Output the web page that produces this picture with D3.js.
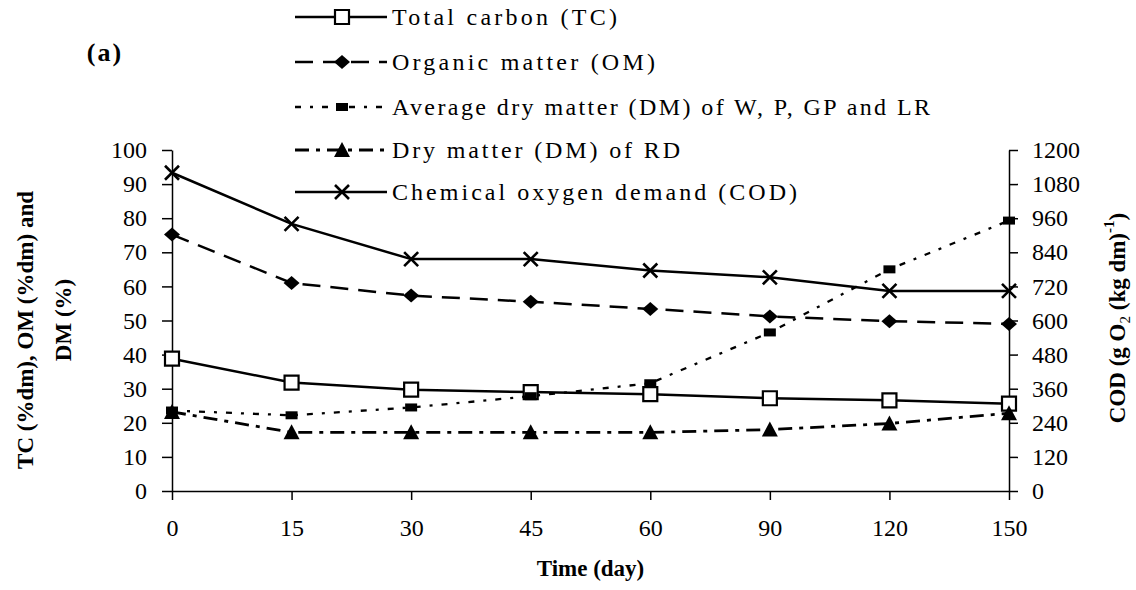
<!DOCTYPE html>
<html>
<head>
<meta charset="utf-8">
<script src="https://cdn.jsdelivr.net/npm/d3@7"></script>
<style>
  body { margin: 0; background: #fff; }
  svg { font-family: "Liberation Serif", "Times New Roman", serif; }
</style>
</head>
<body>
<div id="graph"></div>
<script>
// values (a)
var days = ["0", "15", "30", "45", "60", "90", "120", "150"];
var tcValues = [38.8, 31.8, 29.7, 29.0, 28.4, 27.2, 26.6, 25.6];          // Total carbon, %dm
var omValues = [75.2, 61.0, 57.3, 55.5, 53.4, 51.2, 49.8, 49.0];          // Organic matter, %dm
var avgDmValues = [23.6, 22.2, 24.5, 27.8, 31.6, 46.5, 65.0, 79.3];       // Avg DM of W, P, GP, LR, %
var rdDmValues = [23.2, 17.2, 17.2, 17.2, 17.2, 18.0, 19.8, 22.8];        // DM of RD, %
var codValues = [1120, 940, 816, 816, 776, 752, 704, 704];                // COD, g O2 (kg dm)-1
var leftTicks = [0, 10, 20, 30, 40, 50, 60, 70, 80, 90, 100];
var rightTicks = [0, 120, 240, 360, 480, 600, 720, 840, 960, 1080, 1200];
var legendNames = [
  "Total carbon (TC)",
  "Organic matter (OM)",
  "Average dry matter (DM) of W, P, GP and LR",
  "Dry matter (DM) of RD",
  "Chemical oxygen demand (COD)"
];

var width = 1136;
var height = 590;
var plot = { left: 172, right: 1009, top: 150, bottom: 491 };
var serif = "'Liberation Serif', 'Times New Roman', serif";

var svg = d3.select("#graph").append("svg")
  .attr("width", width)
  .attr("height", height);

var x = d3.scalePoint().domain(days).range([plot.left, plot.right]).padding(0);
var yLeft = d3.scaleLinear().domain([0, 100]).range([plot.bottom, plot.top]);
var yRight = d3.scaleLinear().domain([0, 1200]).range([plot.bottom, plot.top]);

// marker shapes, drawn around 0,0
function markerPath(kind) {
  if (kind == "square") return "M-7,-7H7V7H-7Z";
  if (kind == "diamond") return "M0,-7L8,0L0,7L-8,0Z";
  if (kind == "rect") return "M-6,-4H6V4H-6Z";
  if (kind == "triangle") return "M0,-8L8,7H-8Z";
  if (kind == "cross") return "M-7,-7L7,7M-7,7L7,-7";
  return "";
}

var series = [
  { name: legendNames[0], values: tcValues, scale: yLeft, dash: null, width: 2.5, marker: "square", fill: "#fff", stroke: 2.2 },
  { name: legendNames[1], values: omValues, scale: yLeft, dash: "18,10", width: 2.5, marker: "diamond", fill: "#000", stroke: 0 },
  { name: legendNames[2], values: avgDmValues, scale: yLeft, dash: "6,9,3,9", width: 2.3, marker: "rect", fill: "#000", stroke: 0 },
  { name: legendNames[3], values: rdDmValues, scale: yLeft, dash: "14,7,4,7", width: 2.8, marker: "triangle", fill: "#000", stroke: 0 },
  { name: legendNames[4], values: codValues, scale: yRight, dash: null, width: 2.5, marker: "cross", fill: "none", stroke: 2.6 }
];

/* ---------- axes ---------- */
function styleAxis(g, size) {
  g.attr("font-family", serif);   // d3 puts sans-serif on the axis group
  g.selectAll("text").attr("font-size", size).attr("fill", "#000");
  g.selectAll("line").attr("stroke", "#000").attr("stroke-width", 1.5);
  g.select(".domain").attr("stroke", "#000").attr("stroke-width", 1.5);
}

var gLeft = svg.append("g")
  .attr("transform", "translate(" + plot.left + ",0)")
  .call(d3.axisLeft(yLeft).tickValues(leftTicks).tickSize(10).tickSizeOuter(0).tickPadding(15));
styleAxis(gLeft, 24);

var gRight = svg.append("g")
  .attr("transform", "translate(" + plot.right + ",0)")
  .call(d3.axisRight(yRight).tickValues(rightTicks).tickFormat(d3.format("d"))
    .tickSize(9).tickSizeOuter(0).tickPadding(14));
styleAxis(gRight, 24);

var gBottom = svg.append("g")
  .attr("transform", "translate(0," + plot.bottom + ")")
  .call(d3.axisBottom(x).tickSize(9).tickSizeOuter(0).tickPadding(19));
styleAxis(gBottom, 24);

// axis titles
svg.append("text")
  .attr("transform", "translate(25,330) rotate(-90)")
  .attr("text-anchor", "middle").attr("dy", "0.35em")
  .attr("font-size", 23).attr("font-weight", "bold")
  .text("TC (%dm), OM (%dm) and");
svg.append("text")
  .attr("transform", "translate(63,320) rotate(-90)")
  .attr("text-anchor", "middle").attr("dy", "0.35em")
  .attr("font-size", 23).attr("font-weight", "bold")
  .text("DM (%)");

var rt = svg.append("text")
  .attr("transform", "translate(1117,318) rotate(-90)")
  .attr("text-anchor", "middle").attr("dy", "0.35em")
  .attr("font-size", 23).attr("font-weight", "bold");
rt.append("tspan").text("COD (g O");
rt.append("tspan").attr("font-size", 15).attr("font-weight", "normal").attr("dy", 5).text("2");
rt.append("tspan").attr("dy", -5).text(" (kg dm)");
rt.append("tspan").attr("font-size", 15).attr("dy", -11).text("-1");
rt.append("tspan").attr("dy", 11).text(")");

svg.append("text")
  .attr("x", (plot.left + plot.right) / 2).attr("y", 568)
  .attr("text-anchor", "middle").attr("dy", "0.35em")
  .attr("font-size", 23).attr("font-weight", "bold")
  .text("Time (day)");

svg.append("text")
  .attr("x", 105).attr("y", 52)
  .attr("text-anchor", "middle").attr("dy", "0.35em")
  .attr("font-size", 26).attr("font-weight", "bold")
  .attr("letter-spacing", 2)
  .text("(a)");

/* ---------- lines and markers ---------- */
series.forEach(function (s) {
  var line = d3.line()
    .x(function (d, i) { return x(days[i]); })
    .y(function (d) { return s.scale(d); });

  svg.append("path")
    .datum(s.values)
    .attr("d", line)
    .attr("fill", "none")
    .attr("stroke", "#000")
    .attr("stroke-width", s.width)
    .attr("stroke-dasharray", s.dash);

  svg.append("g").selectAll("path")
    .data(s.values)
    .enter()
    .append("path")
    .attr("transform", function (d, i) { return "translate(" + x(days[i]) + "," + s.scale(d) + ")"; })
    .attr("d", markerPath(s.marker))
    .attr("fill", s.fill)
    .attr("stroke", "#000")
    .attr("stroke-width", s.stroke);
});

/* ---------- legend ---------- */
var legendRows = [17, 62, 107, 150, 192];
var legendWidths = [225, 263, 538, 288, 405];
series.forEach(function (s, i) {
  var ly = legendRows[i];
  svg.append("line")
    .attr("x1", 295).attr("x2", 387).attr("y1", ly).attr("y2", ly)
    .attr("stroke", "#000")
    .attr("stroke-width", s.width)
    .attr("stroke-dasharray", s.dash);
  svg.append("path")
    .attr("transform", "translate(342," + ly + ")")
    .attr("d", markerPath(s.marker))
    .attr("fill", s.fill)
    .attr("stroke", "#000")
    .attr("stroke-width", s.stroke);
  svg.append("text")
    .attr("x", 392).attr("y", ly).attr("dy", "0.35em")
    .attr("font-size", 24)
    .attr("textLength", legendWidths[i])
    .attr("lengthAdjust", "spacing")
    .text(s.name);
});
</script>
</body>
</html>
